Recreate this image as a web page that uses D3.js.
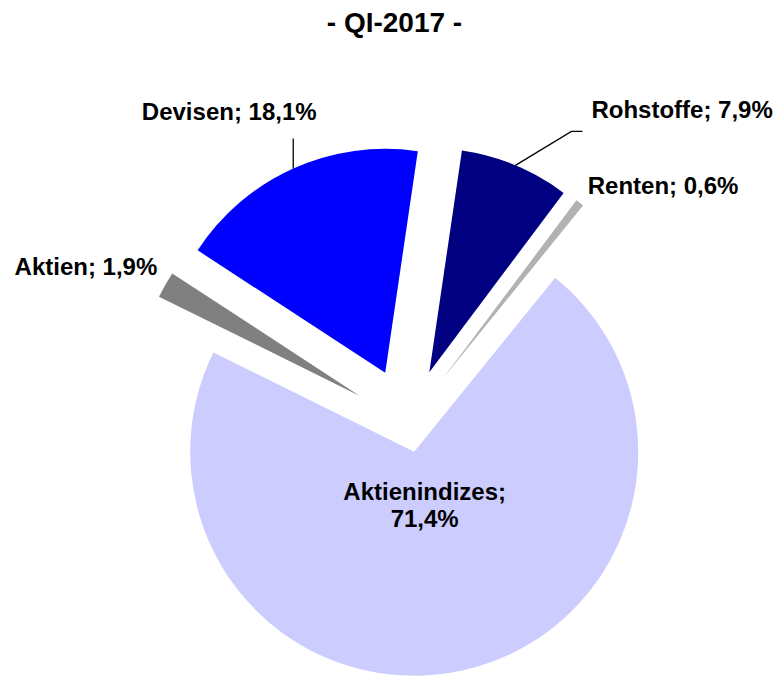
<!DOCTYPE html>
<html>
<head>
<meta charset="utf-8">
<script src="https://cdn.jsdelivr.net/npm/d3@7"></script>
<style>
  html, body { margin: 0; padding: 0; background: #fff; }
  svg { display: block; font-family: "Liberation Sans", Arial, sans-serif; }
</style>
</head>
<body>
<div id="chart"></div>
<script>
const title = "- QI-2017 -";
const categories = ["Aktienindizes", "Aktien", "Devisen", "Rohstoffe", "Renten"];
const values = [71.4, 1.9, 18.1, 7.9, 0.6];
const colors = ["#ccccff", "#808080", "#0000ff", "#000080", "#b2b2b2"];

const width = 777;
const height = 676;
const cx = 408;
const cy = 423.4;
const radius = 224;
const deg = Math.PI / 180;

// how far each slice is pulled out, and where its label sits
const explode = { Aktienindizes: 29, Aktien: 55.5, Devisen: 55.5, Rohstoffe: 55.5, Renten: 55.5 };
const labelLayout = {
  Aktienindizes: { r: -175, dx: 0, dy: 0, anchor: "middle", split: true },
  Aktien: { r: 0, dx: -8, dy: -10, anchor: "end" },
  Devisen: { r: 0, dx: -64, dy: -49, anchor: "middle", leader: [[0, -30]] },
  Rohstoffe: { r: 0, dx: 76, dy: -47, anchor: "start", leader: [[56, -34], [67, -34]] },
  Renten: { r: 0, dx: 8, dy: -9, anchor: "start" }
};

const fmt = d3.formatLocale({ decimal: ",", thousands: ".", grouping: [3], currency: ["", "€"] }).format(".1f");

const svg = d3.select("#chart")
  .append("svg")
  .attr("width", width)
  .attr("height", height);

svg.append("rect").attr("width", width).attr("height", height).attr("fill", "#fff");

svg.append("text")
  .attr("x", 394.5)
  .attr("y", 32)
  .attr("text-anchor", "middle")
  .attr("font-size", 28)
  .attr("font-weight", "bold")
  .text(title);

const start = 39 * deg;
const pie = d3.pie().sort(null).value(d => d.value).startAngle(start).endAngle(start + 2 * Math.PI);
const data = categories.map((c, i) => ({ name: c, value: values[i], color: colors[i] }));
const arcs = pie(data);

const arc = d3.arc().innerRadius(0).outerRadius(radius);

const polar = (a, r) => [Math.sin(a) * r, -Math.cos(a) * r];

const slices = svg.append("g").attr("transform", `translate(${cx},${cy})`);

slices.selectAll("path")
  .data(arcs)
  .join("path")
  .attr("transform", d => {
    const [x, y] = polar((d.startAngle + d.endAngle) / 2, explode[d.data.name]);
    return `translate(${x},${y})`;
  })
  .attr("d", arc)
  .attr("fill", d => d.data.color);

// labels
const labels = svg.append("g").attr("font-weight", "bold").attr("font-size", 24).attr("fill", "#000");

arcs.forEach(d => {
  const mid = (d.startAngle + d.endAngle) / 2;
  const lay = labelLayout[d.data.name];
  const [ox, oy] = polar(mid, explode[d.data.name]);
  const [px, py] = polar(mid, radius + lay.r);
  const x0 = cx + ox + px;
  const y0 = cy + oy + py;

  if (lay.leader) {
    const pts = [[x0, y0]].concat(lay.leader.map(p => [x0 + p[0], y0 + p[1]]));
    labels.append("path")
      .attr("d", d3.line()(pts))
      .attr("fill", "none")
      .attr("stroke", "#000")
      .attr("stroke-width", 1.3);
  }

  const text = labels.append("text")
    .attr("text-anchor", lay.anchor)
    .attr("x", x0 + lay.dx)
    .attr("y", y0 + lay.dy);

  if (lay.split) {
    text.append("tspan").attr("x", x0 + lay.dx).attr("dy", 0).text(d.data.name + ";");
    text.append("tspan").attr("x", x0 + lay.dx).attr("dy", 27).text(fmt(d.data.value) + "%");
  } else {
    text.text(`${d.data.name}; ${fmt(d.data.value)}%`);
  }
});
</script>
</body>
</html>
